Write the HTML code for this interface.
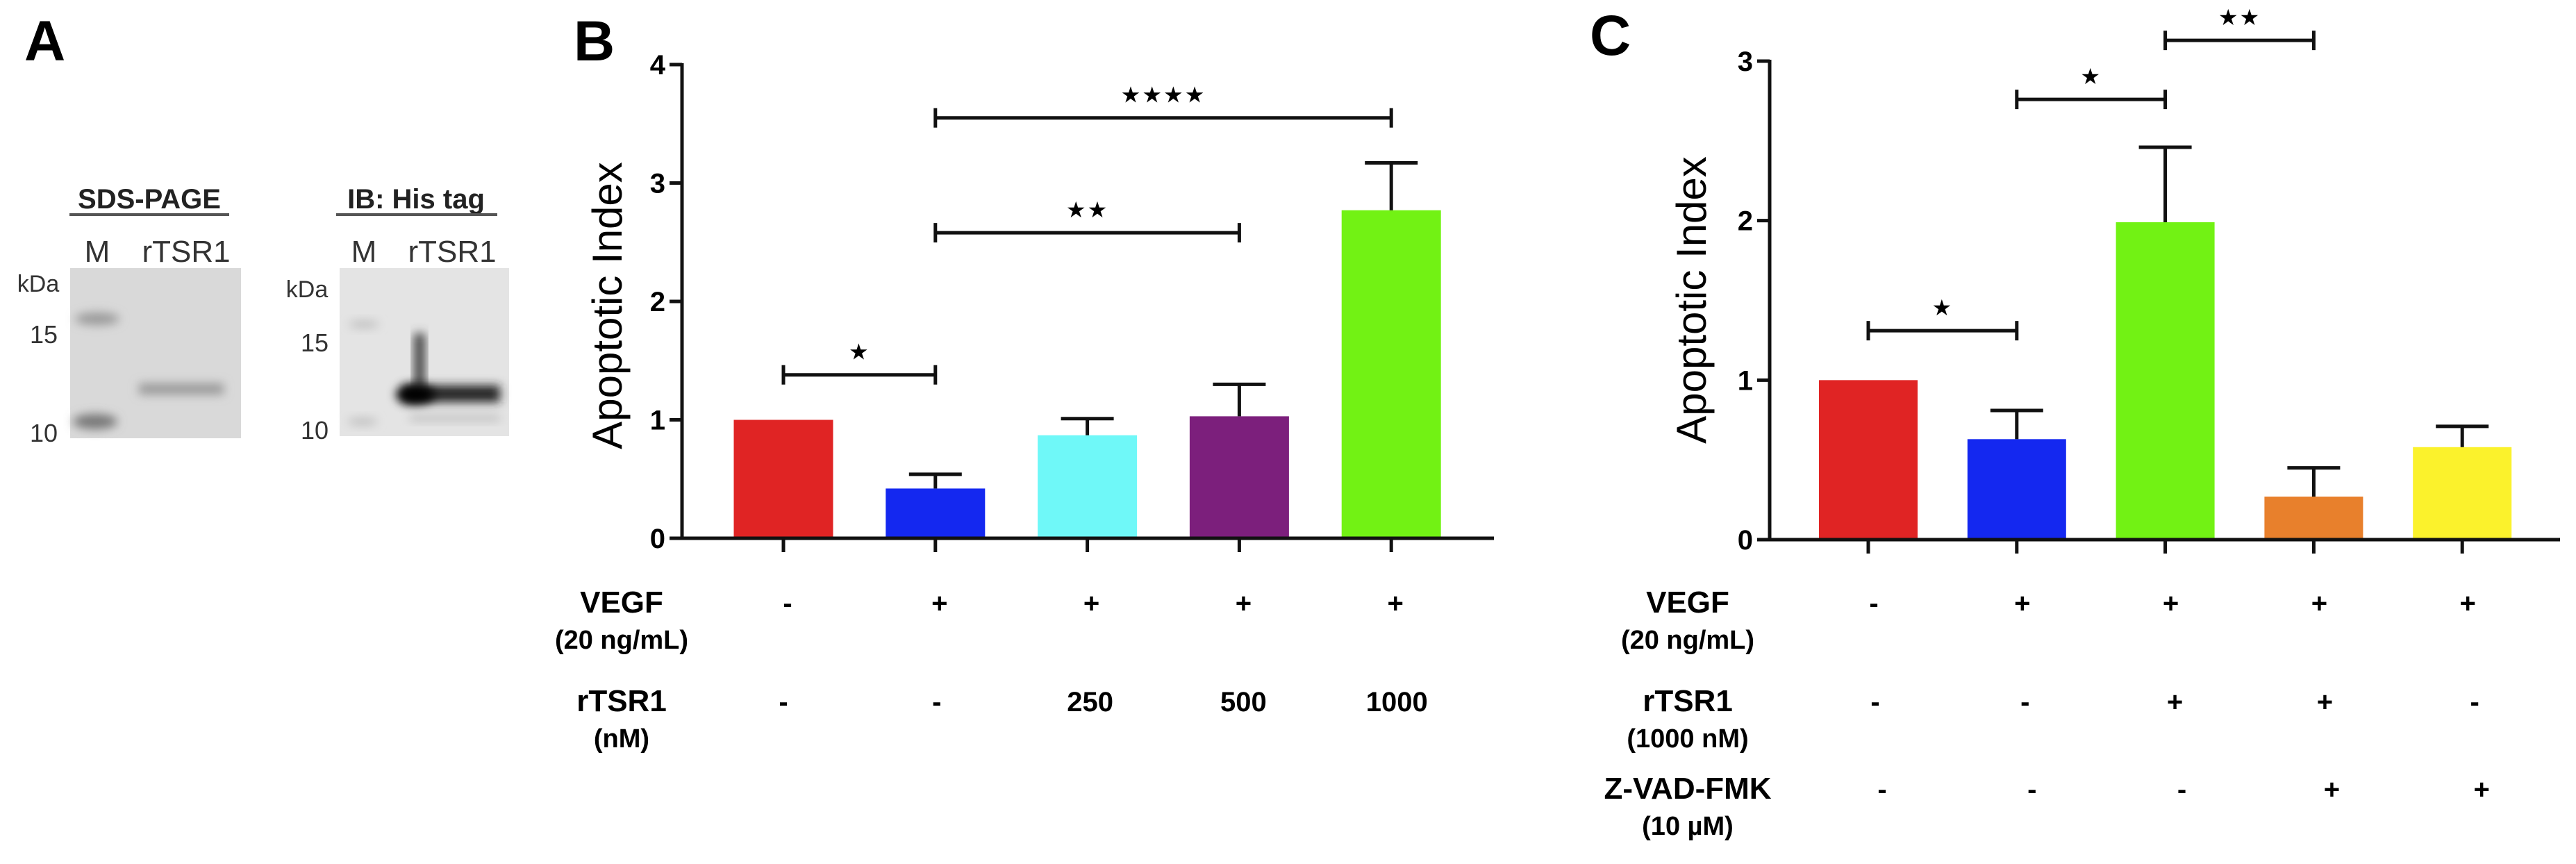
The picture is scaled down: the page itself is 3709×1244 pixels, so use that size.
<!DOCTYPE html>
<html><head><meta charset="utf-8"><style>
html,body{margin:0;padding:0;background:#fff;}
svg{display:block;font-family:"Liberation Sans",sans-serif;}
</style></head><body>
<svg id="fig" width="3709" height="1244" viewBox="0 0 3709 1244">
<defs>
<filter id="blur" x="-30%" y="-100%" width="160%" height="300%"><feGaussianBlur stdDeviation="7"/></filter>
</defs>
<g>
 <text x="35" y="87" font-size="82" font-weight="bold">A</text>
 <g>
  <text x="215" y="300" font-size="40" font-weight="bold" text-anchor="middle" fill="#222">SDS-PAGE</text>
  <rect x="100" y="307" width="230" height="4" fill="#555"/>
  <text x="140" y="377" font-size="44" text-anchor="middle" fill="#333">M</text>
  <text x="268" y="377" font-size="44" text-anchor="middle" fill="#333">rTSR1</text>
  <text x="55" y="420" font-size="34" text-anchor="middle" fill="#333">kDa</text>
  <text x="63" y="494" font-size="36" text-anchor="middle" fill="#333">15</text>
  <text x="63" y="636" font-size="36" text-anchor="middle" fill="#333">10</text>
  <rect x="101" y="386" width="246" height="245" fill="#d9d9d9"/>
  <ellipse cx="140" cy="459" rx="32" ry="9" fill="#999" filter="url(#blur)"/>
  <ellipse cx="137" cy="607" rx="32" ry="11" fill="#777" filter="url(#blur)"/>
  <rect x="200" y="552" width="122" height="16" fill="#999" filter="url(#blur)"/>
 </g>
 <g>
  <text x="599" y="300" font-size="40" font-weight="bold" text-anchor="middle" fill="#222">IB: His tag</text>
  <rect x="484" y="307" width="232" height="4" fill="#555"/>
  <text x="524" y="377" font-size="44" text-anchor="middle" fill="#333">M</text>
  <text x="651" y="377" font-size="44" text-anchor="middle" fill="#333">rTSR1</text>
  <text x="442" y="428" font-size="34" text-anchor="middle" fill="#333">kDa</text>
  <text x="453" y="506" font-size="36" text-anchor="middle" fill="#333">15</text>
  <text x="453" y="632" font-size="36" text-anchor="middle" fill="#333">10</text>
  <rect x="489" y="386" width="244" height="242" fill="#e4e4e4"/>
  <ellipse cx="524" cy="467" rx="22" ry="5" fill="#bbb" filter="url(#blur)"/>
  <ellipse cx="522" cy="607" rx="22" ry="5" fill="#bbb" filter="url(#blur)"/>
  <rect x="596" y="480" width="16" height="80" fill="#444" filter="url(#blur)"/>
  <rect x="580" y="555" width="140" height="24" fill="#222" filter="url(#blur)"/>
  <ellipse cx="598" cy="568" rx="28" ry="14" fill="#000" filter="url(#blur)"/>
  <rect x="590" y="598" width="130" height="8" fill="#bbb" filter="url(#blur)"/>
 </g>
</g>
<g id="chartB">
 <text x="826" y="87" font-size="82" font-weight="bold">B</text>
</g>
<g id="chartC">
 <text x="2289" y="79" font-size="82" font-weight="bold">C</text>
</g>
</svg>
<script>
const bValues=[1.0,0.42,0.87,1.03,2.77];
const bErrors=[0,0.12,0.14,0.27,0.40];
const bColors=['#e02424','#1428f0','#6ff8f8','#7c1f7c','#72f214'];
const bTicks=[0,1,2,3,4];
const bVegf=['-','+','+','+','+'];
const bTsr=['-','-','250','500','1000'];
const bSig=[[0,1,'\u2605'],[1,3,'\u2605\u2605'],[1,4,'\u2605\u2605\u2605\u2605']];
const bSigY=[1.38,2.58,3.55];

const cValues=[1.0,0.63,1.99,0.27,0.58];
const cErrors=[0,0.18,0.47,0.18,0.13];
const cColors=['#e02424','#1428f0','#72f214','#e8802c','#fbf22c'];
const cTicks=[0,1,2,3];
const cVegf=['-','+','+','+','+'];
const cTsr=['-','-','+','+','-'];
const cZvad=['-','-','-','+','+'];
const cSig=[[0,1,'\u2605'],[1,2,'\u2605'],[2,3,'\u2605\u2605']];
const cSigY=[1.31,2.76,3.13];

const NS='http://www.w3.org/2000/svg';
function mk(parent,tag,attrs,text){const e=document.createElementNS(NS,tag);for(const k in attrs)e.setAttribute(k,attrs[k]);if(text!==undefined)e.textContent=text;parent.appendChild(e);return e;}

function drawChart(g,cfg){
 const y=v=>cfg.y0-v*(cfg.y0-cfg.yTop)/cfg.max;
 const x=i=>cfg.x0+i*cfg.step;
 const ya=mk(g,'line',{x1:cfg.axX,y1:y(cfg.max)-2,x2:cfg.axX,y2:cfg.y0+2,stroke:'#111','stroke-width':5});
 
 
 cfg.ticks.forEach(t=>{
  mk(g,'line',{x1:cfg.axX-18,y1:y(t),x2:cfg.axX,y2:y(t),stroke:'#111','stroke-width':5});
  const tl=mk(g,'text',{x:cfg.axX-24,y:y(t)+14,'font-size':40,'font-weight':'bold','text-anchor':'end'},String(t));
  
  
 });
 const tt=mk(g,'text',{x:0,y:0,'font-size':60,'text-anchor':'middle',transform:`translate(${cfg.titleX},${cfg.titleY}) rotate(-90)`},'Apoptotic Index');
 
 
 cfg.values.forEach((v,i)=>{
  const cx=x(i);
  const r=mk(g,'rect',{x:cx-cfg.bw/2,y:y(v),width:cfg.bw,height:cfg.y0-y(v),fill:cfg.colors[i]});
  
  
  if(cfg.errors[i]>0){
   const e=mk(g,'g',{});
   
   
   mk(e,'line',{x1:cx,y1:y(v),x2:cx,y2:y(v+cfg.errors[i]),stroke:'#111','stroke-width':5});
   mk(e,'line',{x1:cx-38,y1:y(v+cfg.errors[i]),x2:cx+38,y2:y(v+cfg.errors[i]),stroke:'#111','stroke-width':5});
  }
  mk(g,'line',{x1:cx,y1:cfg.y0,x2:cx,y2:cfg.y0+20,stroke:'#111','stroke-width':5});
 });
 const xa=mk(g,'line',{x1:cfg.axX-2,y1:cfg.y0,x2:cfg.axEnd,y2:cfg.y0,stroke:'#111','stroke-width':5});
 
 
 cfg.sig.forEach((s,k)=>{
  const sy=y(cfg.sigY[k]);
  const sg=mk(g,'g',{});
  
  
  const a=x(s[0]),b=x(s[1]);
  mk(sg,'line',{x1:a,y1:sy,x2:b,y2:sy,stroke:'#111','stroke-width':5});
  mk(sg,'line',{x1:a,y1:sy-14,x2:a,y2:sy+14,stroke:'#111','stroke-width':5});
  mk(sg,'line',{x1:b,y1:sy-14,x2:b,y2:sy+14,stroke:'#111','stroke-width':5});
  mk(sg,'text',{x:(a+b)/2,y:sy-22,'font-size':32,'text-anchor':'middle','letter-spacing':'2'},s[2]);
 });
 cfg.rows.forEach(row=>{
  const lg=mk(g,'g',{});
  
  
  mk(lg,'text',{x:cfg.labelX,y:row.y,'font-size':44,'font-weight':'bold','text-anchor':'middle'},row.label);
  mk(lg,'text',{x:cfg.labelX,y:row.y+52,'font-size':38,'font-weight':'bold','text-anchor':'middle'},row.sub);
  row.vals.forEach((t,i)=>{
   mk(lg,'text',{x:x(i)+(row.dx||0)+i*(row.ddx||0),y:row.y,'font-size':40,'font-weight':'bold','text-anchor':'middle'},t);
  });
 });
}
drawChart(document.getElementById('chartB'),{
 axX:982,axEnd:2151,y0:775,yTop:93,max:4,x0:1128,step:218.8,bw:143,
 values:bValues,errors:bErrors,colors:bColors,ticks:bTicks,sig:bSig,sigY:bSigY,
 titleX:895,titleY:440,labelX:895,
 rows:[{name:'vegf-row-b',label:'VEGF',sub:'(20 ng/mL)',y:882,vals:bVegf,dx:6},
       {name:'rtsr1-row-b',label:'rTSR1',sub:'(nM)',y:1024,vals:bTsr,dx:0,ddx:2}]
});
drawChart(document.getElementById('chartC'),{
 axX:2548,axEnd:3686,y0:777,yTop:88,max:3,x0:2690,step:213.8,bw:142,
 values:cValues,errors:cErrors,colors:cColors,ticks:cTicks,sig:cSig,sigY:cSigY,
 titleX:2456,titleY:432,labelX:2430,
 rows:[{name:'vegf-row-c',label:'VEGF',sub:'(20 ng/mL)',y:882,vals:cVegf,dx:8},
       {name:'rtsr1-row-c',label:'rTSR1',sub:'(1000 nM)',y:1024,vals:cTsr,dx:10,ddx:2},
       {name:'zvad-row-c',label:'Z-VAD-FMK',sub:'(10 \u00b5M)',y:1150,vals:cZvad,dx:20,ddx:2}]
});
</script>
</body></html>
